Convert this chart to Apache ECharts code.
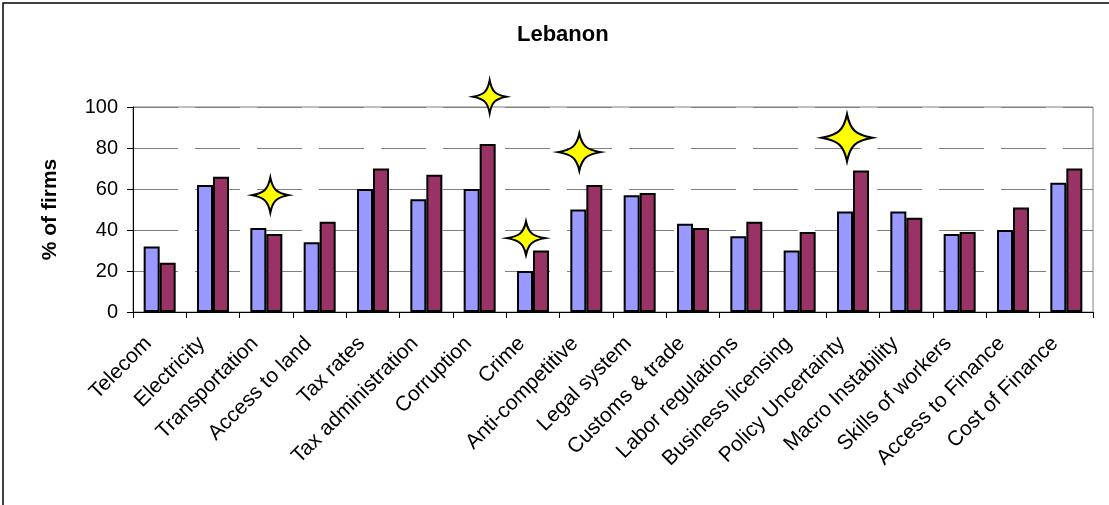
<!DOCTYPE html>
<html>
<head>
<meta charset="utf-8">
<script src="https://cdn.jsdelivr.net/npm/echarts@6/dist/echarts.min.js"></script>
<style>
html,body{margin:0;padding:0;background:#fff;}
#chart{width:1109px;height:505px;}
</style>
</head>
<body>
<div id="chart"></div>
<script>
const categories = ['Telecom','Electricity','Transportation','Access to land','Tax rates','Tax administration','Corruption','Crime','Anti-competitive','Legal system','Customs & trade','Labor regulations','Business licensing','Policy Uncertainty','Macro Instability','Skills of workers','Access to Finance','Cost of Finance'];
const seriesA = [32, 62, 41, 34, 60, 55, 60, 20, 50, 57, 43, 37, 30, 49, 49, 38, 40, 63];
const seriesB = [24, 66, 38, 44, 70, 67, 82, 30, 62, 58, 41, 44, 39, 69, 46, 39, 51, 70];
const starCats = ['Transportation','Corruption','Crime','Anti-competitive','Policy Uncertainty'];
const starValues = [57, 105, 36, 78, 85];
const yTicks = [0, 20, 40, 60, 80, 100];

// marker styles (sizes / offsets), kept apart from the data
const starStyle = [
  {size:[37,35], offset:[4,0]},
  {size:[33,33], offset:[10,0]},
  {size:[39,33], offset:[-7,0]},
  {size:[43,37], offset:[-7,0]},
  {size:[51,47], offset:[-6,0]}
];

const FONT = "'Liberation Sans', Arial, sans-serif";
const starPath = 'path://M0,-10 C1.3,-3.3 3.3,-1.3 10,0 C3.3,1.3 1.3,3.3 0,10 C-1.3,3.3 -3.3,1.3 -10,0 C-3.3,-1.3 -1.3,-3.3 0,-10 Z';

const chart = echarts.init(document.getElementById('chart'), null, {renderer:'canvas'});
chart.setOption({
  animation:false,
  backgroundColor:'#fff',
  textStyle:{fontFamily:FONT},
  title:{
    text:'Lebanon', left:512, top:19,
    textStyle:{fontSize:22, fontWeight:'bold', color:'#000', fontFamily:FONT}
  },
  graphic:[{
    type:'rect', silent:true,
    shape:{x:3, y:3, width:1200, height:600},
    style:{fill:'none', stroke:'#000', lineWidth:1.5}
  }],
  grid:{left:133, right:16, top:107, bottom:193, show:true, borderColor:'#808080', borderWidth:1, backgroundColor:'rgba(0,0,0,0)'},
  xAxis:{
    type:'category', data:categories,
    axisLine:{lineStyle:{color:'#000', width:1}},
    axisTick:{show:true, length:6, lineStyle:{color:'#000'}},
    axisLabel:{rotate:45, interval:0, fontSize:21, color:'#000', margin:17, padding:[0,16,0,0], fontFamily:FONT},
    splitLine:{show:false}
  },
  yAxis:{
    type:'value', min:yTicks[0], max:yTicks[yTicks.length-1], interval:20,
    name:'% of firms', nameLocation:'middle', nameGap:72,
    nameTextStyle:{fontSize:21, fontWeight:'bold', color:'#000', fontFamily:FONT},
    axisLine:{show:true, lineStyle:{color:'#000', width:1}},
    axisTick:{show:true, length:6, lineStyle:{color:'#000'}},
    axisLabel:{fontSize:20, color:'#000', margin:15, fontFamily:FONT},
    splitLine:{show:true, lineStyle:{color:'#808080', width:1, type:[45,17], dashOffset:0}}
  },
  series:[
    {type:'bar', data:seriesA, barGap:'0%', barCategoryGap:'40%',
     itemStyle:{color:'#9999FF', borderColor:'#000', borderWidth:2}},
    {type:'bar', data:seriesB, barGap:'0%', barCategoryGap:'40%',
     itemStyle:{color:'#993366', borderColor:'#000', borderWidth:2}},
    {type:'scatter', clip:false, z:10, symbol:starPath,
     data:starCats.map((c,i)=>({value:[c, starValues[i]], symbolSize:starStyle[i].size, symbolOffset:starStyle[i].offset})),
     itemStyle:{color:'#FFFF00', borderColor:'#000', borderWidth:2, opacity:1}}
  ]
});
</script>
</body>
</html>
